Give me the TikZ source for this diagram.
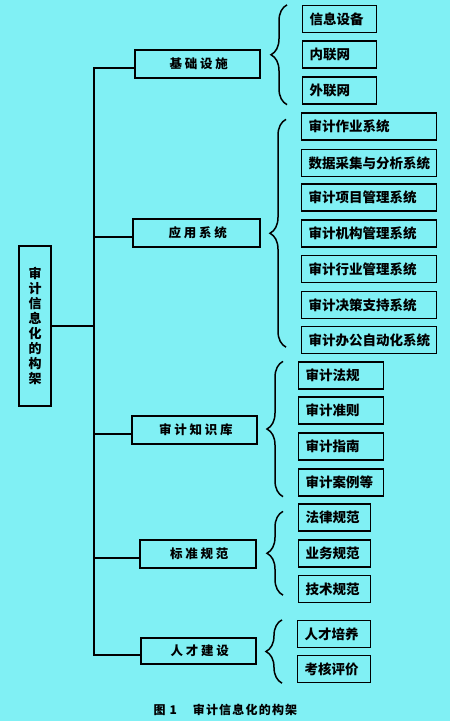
\documentclass[tikz,border=0pt]{standalone}
\usepackage{fontspec}
\setmainfont{Noto Sans CJK SC}
\newfontfamily\cjkwide[LetterSpace=22]{Noto Sans CJK SC}
\newfontfamily\cjkcap[LetterSpace=10]{Noto Sans CJK SC}
\usetikzlibrary{decorations.pathreplacing}

\begin{document}
\begin{tikzpicture}[x=1pt, y=-1pt,
  every node/.style={font=\fontsize{13.5}{15}\selectfont\bfseries},
  box/.style={draw, line width=1.3pt, inner sep=0pt},
  leaf/.style={box, align=left, inner xsep=7pt, minimum height=27pt},
  grp/.style={decorate, decoration={brace, amplitude=16pt}, line width=1.5pt},
  link/.style={line width=1.3pt, line join=miter}]
\definecolor{bgcyan}{RGB}{128,240,244}
% Background
\fill[bgcyan] (0,0) rectangle (450,721);
\useasboundingbox (0,0) rectangle (450,721);
% Root box (vertical title)
\node[box, minimum width=32pt, minimum height=160pt, align=center,
  font=\fontsize{13}{15.1}\selectfont\bfseries] (root) at (35,326)
  {审\\计\\信\\息\\化\\的\\构\\架};
% Level-1 boxes: {name, label, left, right, top, bottom}
\foreach \name/\lab/\xa/\xb/\ya/\yb in {
  infra/基础设施/135/260/50/78,
  apps/应用系统/133/260/219/247,
  kbase/审计知识库/132/257/416/444,
  norms/标准规范/140/256/540/568,
  talent/人才建设/141/256/638/664%
} {
  \pgfmathsetmacro{\boxw}{\xb - \xa}
  \pgfmathsetmacro{\boxh}{\yb - \ya}
  \node[box, minimum width=\boxw pt, minimum height=\boxh pt,
    font=\fontsize{12.5}{15}\selectfont\bfseries\cjkwide] (\name)
    at ({(\xa+\xb)/2},{(\ya+\yb)/2}) {\hspace{2.7pt}\lab};
  \path ([yshift=-4pt]\name.west) coordinate (\name-in);
}
% Leaf boxes: {group, left, width, count, brace inset, items}
\foreach \g/\xa/\boxw/\n/\ins/\items in {
  infra/302/74/3/0/{信息设备/19,内联网/54.5,外联网/90.5},
  apps/301/135/7/7/{审计作业系统/126.5,数据采集与分析系统/163,审计项目管理系统/197.5,
    审计机构管理系统/233.5,审计行业管理系统/269,审计决策支持系统/305,审计办公自动化系统/340},
  kbase/298/85/4/0/{审计法规/375.5,审计准则/410.5,审计指南/446.5,审计案例等/482.5},
  norms/298/72/3/8/{法律规范/517.5,业务规范/553.5,技术规范/589},
  talent/297/73/2/0/{人才培养/634,考核评价/669}%
} {
  \foreach \txt/\yc [count=\j] in \items {
    \node[leaf, text width={\boxw pt - 14pt}, anchor=west] (\g-\j) at (\xa,\yc) {\txt};
  }
  % Brace in front of the group
  \draw[grp] ([xshift=-15pt, yshift=\ins pt]\g-\n.south west)
    -- ([xshift=-15pt, yshift=-\ins pt]\g-1.north west);
}
% Spine
\coordinate (spine) at (94,0);
\draw[link] (infra-in) -- (infra-in -| spine) -- (talent-in -| spine) -- (talent-in);
\foreach \b in {apps,kbase,norms} {
  \draw[link] (\b-in) -- (\b-in -| spine);
}
\draw[link] (root.east) -- (root.east -| spine);
% Caption
\node[anchor=west, font=\fontsize{12}{14}\selectfont\bfseries] (caption) at (150,710)
  {图\hspace{4pt}1\hspace{16pt}{\cjkcap 审计信息化的构架}};
\end{tikzpicture}
\end{document}
